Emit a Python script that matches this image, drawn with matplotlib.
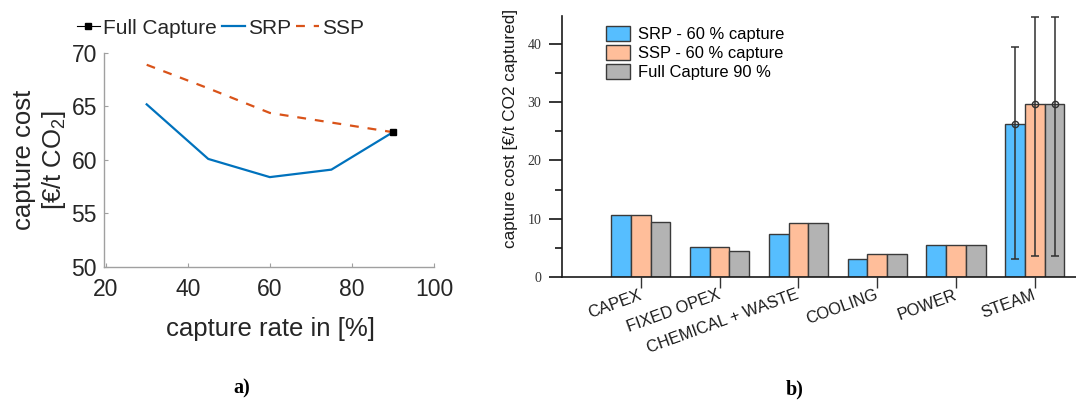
import matplotlib
matplotlib.use("Agg")
import matplotlib.pyplot as plt
import numpy as np

plt.rcParams["font.family"] = ["Liberation Sans", "DejaVu Sans"]
plt.rcParams["mathtext.fontset"] = "custom"
plt.rcParams["mathtext.rm"] = "Liberation Sans"
plt.rcParams["mathtext.it"] = "Liberation Sans:italic"

# ---- a) capture cost vs capture rate ----
capture_rate = [30, 45, 60, 75, 90]
srp_cost = [65.2, 60.1, 58.4, 59.1, 62.6]
ssp_cost = [68.9, 66.7, 64.4, 63.5, 62.6]
full_rate = [90]
full_cost = [62.6]

# ---- b) cost breakdown ----
categories = ["CAPEX", "FIXED OPEX", "CHEMICAL + WASTE", "COOLING", "POWER", "STEAM"]
srp_60 = [10.6, 5.15, 7.4, 3.15, 5.55, 26.2]
ssp_60 = [10.6, 5.15, 9.2, 3.9, 5.55, 29.6]
full_90 = [9.5, 4.4, 9.3, 3.9, 5.55, 29.6]
# steam range (min, max) per case
steam_low = [3.15, 3.55, 3.55]
steam_high = [39.4, 44.6, 44.6]

W, H = 1076, 400
fig = plt.figure(figsize=(W / 100, H / 100), dpi=100)

def px(x0, y0, x1, y1):
    # pixel box (top-left origin) -> figure fraction rect
    return [x0 / W, 1 - y1 / H, (x1 - x0) / W, (y1 - y0) / H]

# ========== left plot ==========
txt = "#262626"
axc = "#a0a0a0"
ax1 = fig.add_axes(px(104, 53, 434, 267))
ax1.plot(full_rate, full_cost, color="k", marker="s", ms=4, lw=0.8, label="Full Capture", zorder=5)
ax1.plot(capture_rate, srp_cost, color="#0072BD", lw=1.6, label="SRP")
ax1.plot(capture_rate, ssp_cost, color="#D95319", lw=1.6, ls=(0, (4, 4)), label="SSP")
ax1.set_xlim(19.6, 100)
ax1.set_ylim(50, 70)
ax1.set_xticks([20, 40, 60, 80, 100])
ax1.set_yticks([50, 55, 60, 65, 70])
for s in ["top", "right"]:
    ax1.spines[s].set_visible(False)
for s in ["left", "bottom"]:
    ax1.spines[s].set_color(axc)
    ax1.spines[s].set_linewidth(1.0)
ax1.tick_params(direction="in", length=3, color=axc, labelcolor=txt, labelsize=16.5)
ax1.tick_params(axis="x", pad=8)
ax1.tick_params(axis="y", pad=5)
fig.text(270 / W, 1 - 329 / H, "capture rate in [%]", ha="center", va="center",
         fontsize=18.5, color=txt)
fig.text(40 / W, 1 - 160 / H, "capture cost\n[€/t CO$_2$]", ha="center", va="center",
         rotation=90, fontsize=18.5, color=txt, multialignment="center", linespacing=1.15)
ax1.legend(loc="center left", bbox_to_anchor=(77 / W, 1 - 28 / H), bbox_transform=fig.transFigure,
           ncol=3, frameon=False, fontsize=15, handlelength=1.1, handletextpad=0.15,
           columnspacing=0.25, borderpad=0, borderaxespad=0, labelcolor=txt)

# ========== right plot ==========
serif = ["Liberation Serif", "DejaVu Serif"]
edge = "#3a3a3a"
ax2 = fig.add_axes(px(562, 15.7, 1076, 277))
x = np.arange(1, len(categories) + 1)
bw = 0.25
ax2.bar(x - bw, srp_60, bw, color="#56BEFF", edgecolor=edge, lw=1.0, label="SRP - 60 % capture")
ax2.bar(x, ssp_60, bw, color="#FFBE9A", edgecolor=edge, lw=1.0, label="SSP - 60 % capture")
ax2.bar(x + bw, full_90, bw, color="#B3B3B3", edgecolor=edge, lw=1.0, label="Full Capture 90 %")

steam_x = x[-1] + np.array([-bw, 0, bw])
steam_val = np.array([srp_60[-1], ssp_60[-1], full_90[-1]])
ax2.errorbar(steam_x, steam_val,
             yerr=[steam_val - np.array(steam_low), np.array(steam_high) - steam_val],
             fmt="o", mfc="none", mec="#303030", ms=4.5, ecolor="#303030", elinewidth=1.1,
             capsize=2.6, capthick=1.1, zorder=5)

ax2.set_xlim(0, (W - 562) / 78.8)
ax2.set_ylim(0, 44.8)
ax2.set_yticks([0, 10, 20, 30, 40])
ax2.set_yticks([5, 15, 25, 35], minor=True)
ax2.set_xticks(x)
ax2.set_xticklabels(categories, rotation=20, ha="right", va="center", rotation_mode="anchor",
                    fontsize=11.8, color="#1a1a1a")
for s in ["top", "right"]:
    ax2.spines[s].set_visible(False)
for s in ["left", "bottom"]:
    ax2.spines[s].set_color("#1a1a1a")
    ax2.spines[s].set_linewidth(1.2)
ax2.tick_params(axis="y", which="major", direction="out", length=9.5, width=1.1, pad=5.5,
                labelsize=10, labelcolor="#333333")
ax2.tick_params(axis="y", which="minor", direction="out", length=5, width=1.1)
ax2.tick_params(axis="x", direction="out", length=8, width=1.0, color="#333333", pad=4.5)
for lab in ax2.get_yticklabels():
    lab.set_family(serif)
ax2.set_ylabel("capture cost [€/t CO2 captured]", fontsize=12.3, color="#1a1a1a")
ax2.yaxis.set_label_coords(-0.0856, 0.57)
ax2.legend(loc="upper left", bbox_to_anchor=(606 / W, 1 - 26 / H), bbox_transform=fig.transFigure,
           frameon=False, fontsize=11.9, handlelength=1.45, handleheight=1.0, handletextpad=0.48,
           labelspacing=0.19, borderpad=0, borderaxespad=0)

# panel captions
fig.text(242 / W, 1 - 388 / H, "a)", ha="center", va="center", fontsize=14.5,
         fontweight="bold", family=serif)
fig.text(795 / W, 1 - 389 / H, "b)", ha="center", va="center", fontsize=14.5,
         fontweight="bold", family=serif)

fig.savefig("out.png", dpi=100)
